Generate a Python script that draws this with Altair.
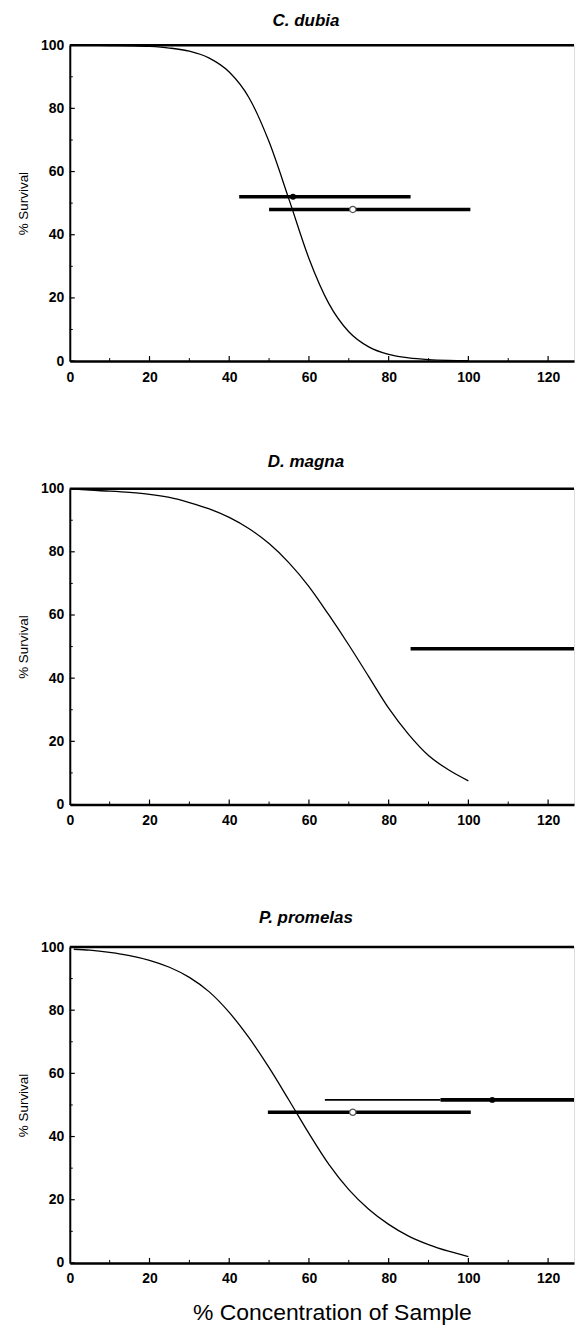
import altair as alt
import pandas as pd

# ---------------- data ----------------
titles = ["C. dubia", "D. magna", "P. promelas"]

dubia_x = [0, 5, 10, 15, 20, 25, 30, 35, 40, 45, 50, 55, 60, 65, 70, 75, 80, 85, 90, 95, 100]
dubia_y = [100, 99.95, 99.9, 99.8, 99.6, 99.1, 98.1, 95.9, 91.5, 83.3, 69.4, 51.2, 32.5, 18.2, 9.3, 4.5, 2.1, 1.0, 0.46, 0.21, 0.1]

magna_x = [0, 5, 10, 15, 20, 25, 30, 35, 40, 45, 50, 55, 60, 65, 70, 75, 80, 85, 90, 95, 100]
magna_y = [100, 99.5, 99.2, 98.8, 98.2, 97.2, 95.6, 93.6, 90.9, 87.3, 82.6, 76.5, 69, 60, 50.5, 40.5, 30.5, 22.2, 15.5, 11, 7.5]

prom_x = [1, 5, 10, 15, 20, 25, 30, 35, 40, 45, 50, 55, 60, 65, 70, 75, 80, 85, 90, 95, 100]
prom_y = [99.3, 99, 98.3, 97.3, 95.8, 93.6, 90.4, 85.8, 79.3, 71.2, 61.8, 51.5, 41, 31.2, 23.2, 17, 12.2, 8.5, 5.8, 3.7, 2.0]

# confidence-interval bars: y level, lower, upper, weight class
dubia_bar_y = [52, 48]
dubia_bar_lo = [42.5, 50]
dubia_bar_hi = [85.5, 100.5]
dubia_bar_k = ["thick", "thick"]

magna_bar_y = [49.3]
magna_bar_lo = [85.5]
magna_bar_hi = [160]
magna_bar_k = ["thick"]

prom_bar_y = [51.6, 51.6, 47.7]
prom_bar_lo = [64, 93, 49.7]
prom_bar_hi = [93, 160, 100.6]
prom_bar_k = ["thin", "thick", "thick"]

# point estimates: x, y, filled?
dubia_pt_x = [56, 71]
dubia_pt_y = [52, 48]
dubia_pt_f = [True, False]

magna_pt_x = []
magna_pt_y = []
magna_pt_f = []

prom_pt_x = [106, 71]
prom_pt_y = [51.6, 47.7]
prom_pt_f = [True, False]

x_ticks = [0, 20, 40, 60, 80, 100, 120]
y_ticks = [0, 20, 40, 60, 80, 100]
x_minor = [10, 30, 50, 70, 90, 110]
y_minor = [10, 30, 50, 70, 90]

# ---------------- layout ----------------
X_MAX = 126.5
W, H = 506, 317
FONT = "Liberation Sans"

xs = alt.Scale(domain=[0, X_MAX], nice=False, zero=False)
ys = alt.Scale(domain=[0, 100], nice=False)


def panel(title, cx, cy, blo, bhi, by, bk, px, py, pf, xtitle, toff):
    xaxis = alt.Axis(values=x_ticks, labelFont=FONT, labelFontWeight="bold", labelFontSize=14,
                     labelColor="black", labelPadding=9, ticks=False, domainColor="black",
                     domainWidth=2.5, grid=False, labelFlush=False,
                     title=xtitle if xtitle else None, titleFont=FONT, titleFontSize=23,
                     titleFontWeight="normal", titleColor="black", titlePadding=16, titleX=263)
    yaxis = alt.Axis(values=y_ticks, labelFont=FONT, labelFontWeight="bold", labelFontSize=14,
                     labelColor="black", labelPadding=6, ticks=False, domainColor="black",
                     domainWidth=2, grid=False, labelFlush=False,
                     title="% Survival", titleFont=FONT, titleFontSize=13.5,
                     titleFontWeight="normal", titleColor="black", titlePadding=10)

    cdf = pd.DataFrame({"x": cx, "y": cy})
    curve = alt.Chart(cdf).mark_line(color="black", strokeWidth=1.3, interpolate="monotone",
                                     clip=True).encode(
        x=alt.X("x:Q", scale=xs, axis=xaxis),
        y=alt.Y("y:Q", scale=ys, axis=yaxis),
    )

    top = alt.Chart(pd.DataFrame({"y": [100]})).mark_rule(color="black", strokeWidth=2.5).encode(
        y=alt.Y("y:Q", scale=ys), x=alt.value(0), x2=alt.value(W))

    ytick_major = alt.Chart(pd.DataFrame({"y": y_ticks})).mark_rule(color="black", strokeWidth=1.2).encode(
        y=alt.Y("y:Q", scale=ys), x=alt.value(0), x2=alt.value(5))
    ytick_minor = alt.Chart(pd.DataFrame({"y": y_minor})).mark_rule(color="black", strokeWidth=1).encode(
        y=alt.Y("y:Q", scale=ys), x=alt.value(0), x2=alt.value(3))
    xtick_major = alt.Chart(pd.DataFrame({"x": x_ticks[1:]})).mark_rule(color="black", strokeWidth=1.2).encode(
        x=alt.X("x:Q", scale=xs), y=alt.value(H), y2=alt.value(H - 5))
    xtick_minor = alt.Chart(pd.DataFrame({"x": x_minor})).mark_rule(color="black", strokeWidth=1).encode(
        x=alt.X("x:Q", scale=xs), y=alt.value(H), y2=alt.value(H - 3))

    bdf = pd.DataFrame({"lo": blo, "hi": bhi, "y": by, "k": bk})
    bars = alt.Chart(bdf).mark_rule(color="black", clip=True).encode(
        x=alt.X("lo:Q", scale=xs), x2="hi:Q", y=alt.Y("y:Q", scale=ys),
        strokeWidth=alt.StrokeWidth("k:N", scale=alt.Scale(domain=["thin", "thick"], range=[1.6, 3.6]),
                                    legend=None),
    )

    layers = [curve, top, ytick_major, ytick_minor, xtick_major, xtick_minor, bars]

    pdf = pd.DataFrame({"x": px, "y": py, "f": pf})
    if len(pdf):
        filled = alt.Chart(pdf[pdf["f"]]).mark_circle(color="black", size=35, opacity=1, clip=True).encode(
            x=alt.X("x:Q", scale=xs), y=alt.Y("y:Q", scale=ys))
        opened = alt.Chart(pdf[~pdf["f"]]).mark_point(shape="circle", filled=True, fill="white",
                                                     stroke="#555555", strokeWidth=1.2, size=40,
                                                     opacity=1, clip=True).encode(
            x=alt.X("x:Q", scale=xs), y=alt.Y("y:Q", scale=ys))
        layers += [opened, filled]

    return alt.layer(*layers).properties(
        width=W, height=H,
        title=alt.TitleParams(text=title, font=FONT, fontSize=17, fontStyle="italic",
                              fontWeight="bold", color="black", anchor="middle", dx=-16, offset=toff),
    )


p1 = panel(titles[0], dubia_x, dubia_y, dubia_bar_lo, dubia_bar_hi, dubia_bar_y, dubia_bar_k,
           dubia_pt_x, dubia_pt_y, dubia_pt_f, None, 8)
p2 = panel(titles[1], magna_x, magna_y, magna_bar_lo, magna_bar_hi, magna_bar_y, magna_bar_k,
           magna_pt_x, magna_pt_y, magna_pt_f, None, 11)
p3 = panel(titles[2], prom_x, prom_y, prom_bar_lo, prom_bar_hi, prom_bar_y, prom_bar_k,
           prom_pt_x, prom_pt_y, prom_pt_f, "% Concentration of Sample", 13)

chart = alt.vconcat(alt.vconcat(p1, p2, spacing=67), p3, spacing=80).properties(
    padding={"left": 8, "top": 1, "right": 0, "bottom": 0}
).configure_view(stroke=None).configure(background="white")

chart.save("out.html", embed_options={"renderer": "svg", "actions": False})
